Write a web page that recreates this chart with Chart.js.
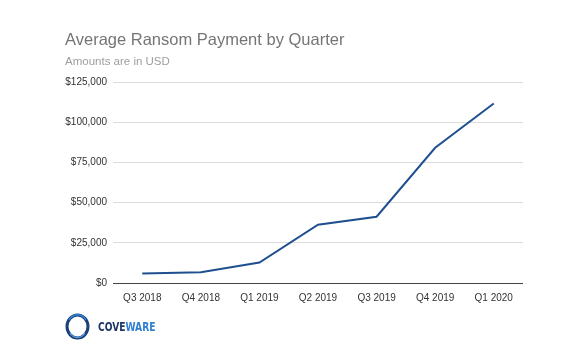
<!DOCTYPE html>
<html>
<head>
<meta charset="utf-8">
<script src="https://cdn.jsdelivr.net/npm/chart.js@4.4.1/dist/chart.umd.min.js"></script>
<style>
  html, body { margin: 0; padding: 0; background: #fff; }
  body { width: 573px; height: 353px; position: relative; overflow: hidden; font-family: "Liberation Sans", Arial, sans-serif; }
  #wrap { position: absolute; left: 0; top: 0; width: 573px; height: 353px; }
  .title { position: absolute; left: 65px; top: 30px; font-size: 16.5px; color: #757575; white-space: nowrap; }
  .subtitle { position: absolute; left: 65px; top: 55px; font-size: 11.5px; color: #9e9e9e; white-space: nowrap; }
  .logo { position: absolute; left: 65px; top: 312px; height: 28px; display: flex; align-items: center; }
  .logo span.txt { margin-left: 8px; font-family: "DejaVu Sans Condensed", "DejaVu Sans", sans-serif; font-weight: bold; font-size: 13px; transform: scaleX(0.78); transform-origin: left center; display: inline-block; }
</style>
</head>
<body>
<div id="wrap"><canvas id="ransom_chart"></canvas></div>
<div class="title">Average Ransom Payment by Quarter</div>
<div class="subtitle">Amounts are in USD</div>
<div class="logo">
  <svg width="25" height="27" viewBox="0 0 25 27">
    <ellipse cx="12.5" cy="13.5" rx="10.5" ry="11.5" fill="none" stroke="#1c3f78" stroke-width="3"/>
    <path d="M4 7 A10 11 0 0 1 21 7" fill="none" stroke="#2f86d6" stroke-width="1.5"/>
    <path d="M5 20 A9 10 0 0 0 20 20" fill="none" stroke="#5aa7e6" stroke-width="1.2"/>
  </svg>
  <span class="txt"><span style="color:#1c3566">COVE</span><span style="color:#2e7fd2">WARE</span></span>
</div>
<script>
const quarters = ['Q3 2018', 'Q4 2018', 'Q1 2019', 'Q2 2019', 'Q3 2019', 'Q4 2019', 'Q1 2020'];
const avgPayment = [5973, 6733, 12762, 36295, 41198, 84116, 111605];
const yTicks = [0, 25000, 50000, 75000, 100000, 125000];

document.addEventListener('DOMContentLoaded', function() {
  const ctx = document.getElementById('ransom_chart').getContext('2d');
  new Chart(ctx, {
    type: 'line',
    data: {
      labels: quarters,
      datasets: [{
        label: 'Average Ransom Payment',
        data: avgPayment,
        borderColor: '#1f4f8f',
        borderWidth: 2,
        pointRadius: 0,
        tension: 0,
        fill: false
      }]
    },
    options: {
      responsive: true,
      maintainAspectRatio: false,
      animation: false,
      layout: { padding: { top: 82, right: 50, bottom: 40, left: 0 } },
      plugins: {
        legend: { display: false },
        tooltip: { enabled: false }
      },
      scales: {
        x: {
          offset: true,
          grid: { display: false, drawTicks: false },
          border: { display: false },
          ticks: {
            color: '#333',
            font: { family: '"Liberation Sans", Arial, sans-serif', size: 10 },
            padding: 9,
            maxRotation: 0
          },
          afterFit: function(scale) { scale.height = 30; }
        },
        y: {
          min: 0,
          max: 125000,
          afterBuildTicks: function(scale) { scale.ticks = yTicks.map(v => ({ value: v })); },
          grid: {
            drawTicks: false,
            color: c => c.tick && c.tick.value === 0 ? '#444' : '#dcdcdc',
            lineWidth: 1
          },
          border: { display: false },
          ticks: {
            color: '#333',
            font: { family: '"Liberation Sans", Arial, sans-serif', size: 10 },
            padding: 6,
            callback: v => '$' + v.toLocaleString('en-US')
          },
          afterFit: function(scale) { scale.width = 113; }
        }
      }
    }
  });
});
</script>
</body>
</html>
